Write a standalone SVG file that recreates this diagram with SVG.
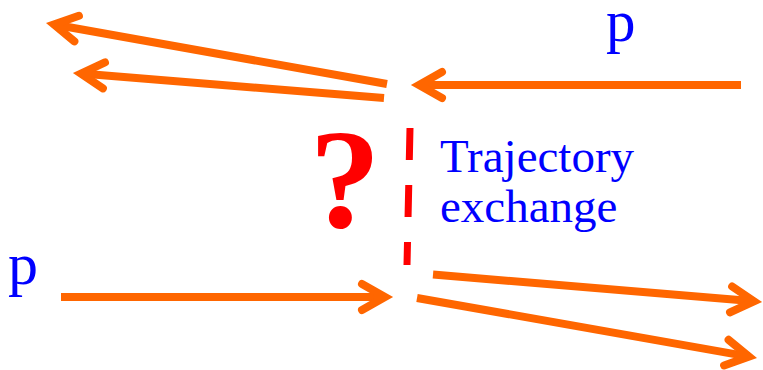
<svg xmlns="http://www.w3.org/2000/svg" width="763" height="370" viewBox="0 0 763 370">
  <style>
    .arrow { stroke: #FF6600; stroke-width: 8; fill: none; stroke-linecap: butt; marker-end: url(#head); }
    .lbl { font-family: "Liberation Serif", "Times New Roman", serif; fill: #0000FF; }
  </style>
  <defs>
    <marker id="head" markerUnits="userSpaceOnUse" orient="auto" refX="0" refY="0" markerWidth="60" markerHeight="60" viewBox="-40 -30 60 60" overflow="visible">
      <path d="M-23,-13 L0,0 L-23,13" fill="none" stroke="#FF6600" stroke-width="8" stroke-linecap="round" stroke-linejoin="miter" stroke-miterlimit="10"/>
    </marker>
  </defs>
  <rect width="763" height="370" fill="#FFFFFF"/>
  <g id="connectors">
    <line class="arrow" x1="387" y1="84" x2="54" y2="24.5"/>
    <line class="arrow" x1="384" y1="98" x2="81" y2="73.6"/>
    <line class="arrow" x1="741" y1="85" x2="419" y2="85"/>
    <line class="arrow" x1="61" y1="297" x2="385" y2="297"/>
    <line class="arrow" x1="433" y1="274.5" x2="754" y2="301.3"/>
    <line class="arrow" x1="417" y1="298" x2="749" y2="356.6"/>
    <line id="exchange-line" x1="410" y1="128" x2="407" y2="265" stroke="#FF0000" stroke-width="7" stroke-dasharray="32 25"/>
  </g>
  <g id="question">
    <text x="345" y="227" font-family="'Liberation Serif', 'Times New Roman', serif" font-weight="bold" font-size="142" fill="#FF0000" text-anchor="middle">?</text>
  </g>
  <g id="label-exchange">
    <text class="lbl" x="440" y="172" font-size="47">Trajectory</text>
    <text class="lbl" x="440" y="222" font-size="47">exchange</text>
  </g>
  <g id="label-p-left">
    <text class="lbl" x="8" y="284" font-size="60">p</text>
  </g>
  <g id="label-p-right">
    <text class="lbl" x="606" y="41" font-size="59">p</text>
  </g>
</svg>
